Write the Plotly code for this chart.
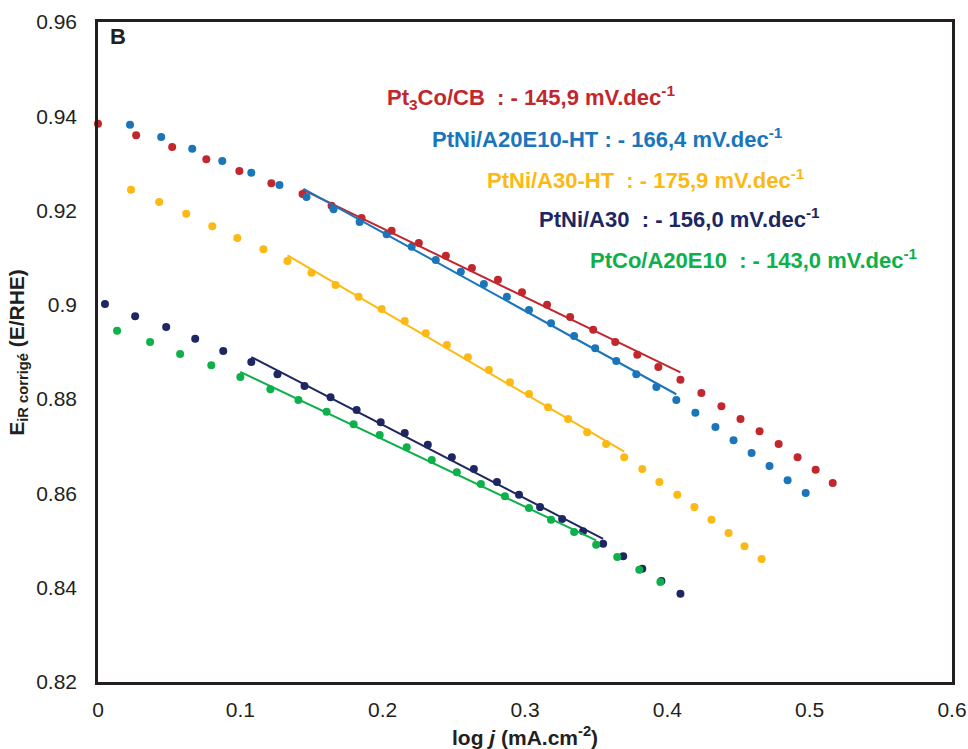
import numpy as np
import plotly.graph_objects as go

# ---------------- data ----------------
names = ["Pt<sub>3</sub>Co/CB", "PtNi/A20E10-HT", "PtNi/A30-HT", "PtNi/A30", "PtCo/A20E10"]
colors = ["#C1272D", "#1B75BB", "#FDB913", "#1E2761", "#0DB04B"]
tafel_slopes = [145.9, 166.4, 175.9, 156.0, 143.0]  # mV/dec (labels)
slope_labels = ["145,9", "166,4", "175,9", "156,0", "143,0"]

x_pt3co = [0.000, 0.0268, 0.0521, 0.0761, 0.0993, 0.1218, 0.1437, 0.1641, 0.1852, 0.2063,
           0.2254, 0.2444, 0.2627, 0.2810, 0.2979, 0.3155, 0.3317, 0.3479, 0.3634, 0.3789,
           0.3937, 0.4092, 0.4239, 0.4380, 0.4514, 0.4648, 0.4782, 0.4915, 0.5042, 0.5162]
y_pt3co = [0.9384, 0.9360, 0.9335, 0.9309, 0.9284, 0.9258, 0.9235, 0.9210, 0.9184, 0.9157,
           0.9131, 0.9104, 0.9078, 0.9053, 0.9027, 0.9000, 0.8974, 0.8947, 0.8921, 0.8894,
           0.8868, 0.8841, 0.8813, 0.8785, 0.8758, 0.8732, 0.8705, 0.8677, 0.8650, 0.8622]

x_a20e10ht = [0.0225, 0.0444, 0.0662, 0.0873, 0.1077, 0.1275, 0.1465, 0.1655, 0.1838, 0.2028,
              0.2204, 0.2373, 0.2549, 0.2711, 0.2873, 0.3028, 0.3183, 0.3345, 0.3493, 0.3641,
              0.3782, 0.3923, 0.4063, 0.4197, 0.4338, 0.4465, 0.4592, 0.4718, 0.4845, 0.4972]
y_a20e10ht = [0.9382, 0.9356, 0.9331, 0.9305, 0.9280, 0.9254, 0.9229, 0.9203, 0.9176, 0.9150,
              0.9123, 0.9095, 0.9070, 0.9044, 0.9017, 0.8989, 0.8961, 0.8934, 0.8908, 0.8881,
              0.8853, 0.8826, 0.8798, 0.8771, 0.8741, 0.8713, 0.8686, 0.8658, 0.8628, 0.8601]

x_a30ht = [0.0232, 0.0430, 0.0620, 0.0803, 0.0979, 0.1162, 0.1331, 0.1500, 0.1669, 0.1831,
           0.1993, 0.2155, 0.2303, 0.2451, 0.2599, 0.2746, 0.2894, 0.3028, 0.3162, 0.3303,
           0.3437, 0.3570, 0.3697, 0.3824, 0.3944, 0.4070, 0.4190, 0.4310, 0.4430, 0.4542, 0.4662]
y_a30ht = [0.9244, 0.9218, 0.9193, 0.9167, 0.9142, 0.9118, 0.9093, 0.9068, 0.9042, 0.9017,
           0.8991, 0.8966, 0.8940, 0.8915, 0.8889, 0.8862, 0.8836, 0.8811, 0.8783, 0.8758,
           0.8730, 0.8705, 0.8677, 0.8652, 0.8624, 0.8597, 0.8571, 0.8544, 0.8516, 0.8488, 0.8461]

x_a30 = [0.0049, 0.0261, 0.0479, 0.0683, 0.0880, 0.1077, 0.1261, 0.1451, 0.1634, 0.1817,
         0.1986, 0.2155, 0.2317, 0.2486, 0.2641, 0.2803, 0.2958, 0.3106, 0.3261, 0.3408,
         0.3549, 0.3690, 0.3824, 0.3958, 0.4092]
y_a30 = [0.9002, 0.8976, 0.8953, 0.8928, 0.8902, 0.8879, 0.8853, 0.8828, 0.8804, 0.8777,
         0.8751, 0.8728, 0.8703, 0.8677, 0.8652, 0.8624, 0.8597, 0.8571, 0.8546, 0.8520,
         0.8493, 0.8467, 0.8440, 0.8414, 0.8387]

x_ptco = [0.0134, 0.0366, 0.0577, 0.0796, 0.1000, 0.1211, 0.1408, 0.1606, 0.1796, 0.1979,
          0.2169, 0.2345, 0.2521, 0.2690, 0.2859, 0.3028, 0.3183, 0.3345, 0.3500, 0.3648,
          0.3803, 0.3951]
y_ptco = [0.8945, 0.8921, 0.8896, 0.8872, 0.8847, 0.8821, 0.8798, 0.8773, 0.8747, 0.8724,
          0.8698, 0.8671, 0.8645, 0.8620, 0.8594, 0.8569, 0.8544, 0.8518, 0.8491, 0.8465,
          0.8438, 0.8412]

# Tafel fit ranges (log j)
fit_start = [0.1437, 0.1444, 0.1331, 0.1077, 0.1000]
fit_end = [0.4092, 0.4063, 0.3697, 0.3549, 0.3500]

xs = [x_pt3co, x_a20e10ht, x_a30ht, x_a30, x_ptco]
ys = [y_pt3co, y_a20e10ht, y_a30ht, y_a30, y_ptco]

x_ticks = [0, 0.1, 0.2, 0.3, 0.4, 0.5, 0.6]
y_ticks = [0.82, 0.84, 0.86, 0.88, 0.9, 0.92, 0.94, 0.96]

FONT = "Liberation Sans, Arial, sans-serif"
TXT = "#231F20"

fig = go.Figure()

for i in range(5):
    x = np.array(xs[i]); y = np.array(ys[i])
    fig.add_trace(go.Scatter(x=x, y=y, mode="markers",
                             marker=dict(color=colors[i], size=8, line=dict(width=0)),
                             showlegend=False, cliponaxis=False))
for i in range(5):
    x = np.array(xs[i]); y = np.array(ys[i])
    m = -tafel_slopes[i] / 1000.0
    sel = (x >= fit_start[i] - 1e-6) & (x <= fit_end[i] + 1e-6)
    b = np.mean(y[sel] - m * x[sel])
    fx = np.array([fit_start[i], fit_end[i]])
    fig.add_trace(go.Scatter(x=fx, y=m * fx + b, mode="lines",
                             line=dict(color=colors[i], width=2),
                             showlegend=False))

# slope labels
label_pos = [(0.336, 0.886), (0.389, 0.824), (0.453, 0.762), (0.514, 0.703), (0.574, 0.641)]
sep = ["\u00a0\u00a0: ", " : ", "\u00a0\u00a0: ", "\u00a0\u00a0: ", "\u00a0\u00a0: "]
for i in range(5):
    fig.add_annotation(xref="paper", yref="paper", x=label_pos[i][0], y=label_pos[i][1],
                       xanchor="left", yanchor="middle", showarrow=False,
                       text=f"<b>{names[i]}{sep[i]}- {slope_labels[i]} mV.dec<sup>-1</sup></b>",
                       font=dict(family=FONT, size=22, color=colors[i]))

fig.add_annotation(xref="paper", yref="paper", x=0.012, y=1.0, xanchor="left", yanchor="top",
                   showarrow=False, text="<b>B</b>", font=dict(family=FONT, size=22, color=TXT))

# axis titles as annotations
fig.add_annotation(xref="paper", yref="paper", x=0.5, y=-0.0818, xanchor="center", yanchor="middle",
                   showarrow=False, text="<b>log <i>j</i> (mA.cm<sup>-2</sup>)</b>",
                   font=dict(family=FONT, size=21, color=TXT))
fig.add_annotation(xref="paper", yref="paper", x=-0.094, y=0.5, xanchor="center", yanchor="middle",
                   textangle=-90, showarrow=False, text="<b>E<sub>iR corrigé</sub> (E/RHE)</b>",
                   font=dict(family=FONT, size=21, color=TXT))

fig.update_layout(
    width=968, height=749,
    margin=dict(l=98, r=16, t=22, b=67, autoexpand=False),
    paper_bgcolor="white", plot_bgcolor="white",
    font=dict(family=FONT, size=21, color=TXT),
    xaxis=dict(range=[0, 0.6], tickvals=x_ticks, ticktext=[str(v) for v in x_ticks],
               showgrid=False, zeroline=False, showline=True, linecolor=TXT, linewidth=2.5,
               mirror=True, ticks="", ticklabelstandoff=7, automargin=False),
    yaxis=dict(range=[0.82, 0.96], tickvals=y_ticks, ticktext=[str(v) for v in y_ticks],
               showgrid=False, zeroline=False, showline=True, linecolor=TXT, linewidth=2.5,
               mirror=True, ticks="", ticklabelstandoff=14, automargin=False),
)

# remove the page's default 8px body margin so the figure fills the window exactly
fig.write_html("out.html", config={"displayModeBar": False},
               post_script="document.body.style.margin='0';document.body.style.overflow='hidden';")
